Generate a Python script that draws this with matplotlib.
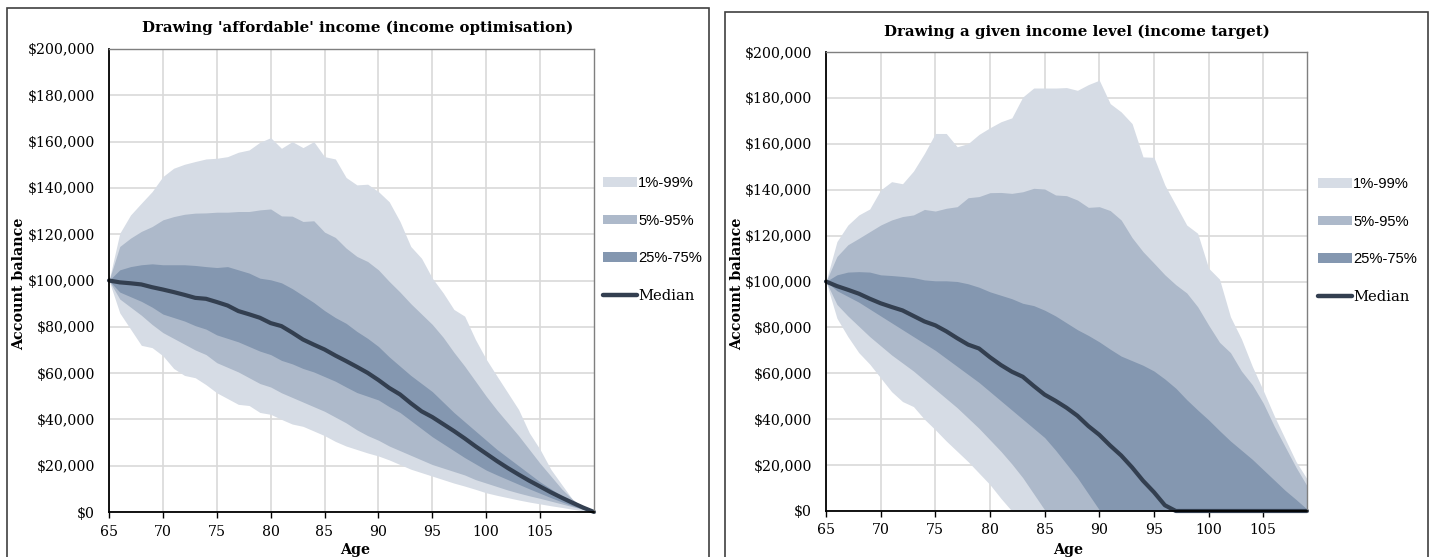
# Retirement account balance fan charts (two panels)

import matplotlib.pyplot as plt
import matplotlib.ticker as mticker
from matplotlib.patches import Rectangle, Patch
from matplotlib.lines import Line2D

# ages on the category axis
ages_left = list(range(65, 111))
ages_right = list(range(65, 110))

# left panel, income optimisation ($ thousands)
left_p01 = [100, 86, 79, 72, 71, 67.5, 62, 59, 58, 55, 51.5, 49, 46.5, 46, 43, 42.2, 40, 38, 37, 35,
            33, 30.5, 28.5, 27, 25.5, 24.2, 22.5, 20.5, 18.5, 17, 15.5, 14, 12.5, 11.2, 9.8, 8.3, 7.2,
            6.2, 5.2, 4.3, 3.5, 2.7, 2, 1.2, 0.5, 0]
left_p05 = [100, 92, 88.5, 85, 81, 77.5, 75, 72.5, 70, 68, 64.5, 62.5, 60.5, 58, 55.5, 54, 51.5, 49.5,
            47.5, 45.5, 43.5, 41, 38.5, 35.5, 33, 31, 28.5, 26.5, 24.5, 22.5, 20.5, 19, 17.5, 16, 14,
            12.5, 11, 9.5, 8.2, 7, 5.9, 4.7, 3.5, 2.3, 1.1, 0]
left_p25 = [100, 95, 93, 91, 88.5, 85.5, 84, 82.5, 80.5, 79, 76.5, 75, 73.5, 71.5, 69.5, 68, 65.5, 64,
            62, 60.5, 58.5, 56.5, 54, 51.6, 50, 48.4, 45.5, 43, 39.5, 36, 32.5, 29.5, 26.5, 23.5, 20.8,
            18.1, 16, 14, 12, 10, 8.1, 6.2, 4.4, 2.7, 1.2, 0]
left_med = [100, 99.2, 98.8, 98.3, 97.1, 96.1, 95, 93.8, 92.5, 92.1, 90.7, 89.2, 86.8, 85.4, 83.9, 81.6,
            80.3, 77.5, 74.5, 72.3, 70.2, 67.6, 65.2, 62.7, 60.1, 57, 53.6, 50.8, 47, 43.5, 41, 38, 35,
            31.8, 28.4, 25.2, 22, 19, 16.2, 13.5, 11, 8.5, 6.2, 4, 1.9, 0]
left_p75 = [100, 104.6, 106, 106.8, 107.2, 106.8, 106.8, 106.8, 106.5, 106, 105.6, 106, 104.6, 103.2,
            101, 100.3, 99, 96.5, 93.5, 90.5, 87, 84, 81.5, 78, 75, 71.5, 67, 63, 59, 55.5, 52, 47.5,
            43, 39, 35, 31, 27, 23.5, 20, 16.5, 13, 10, 7, 4, 1.7, 0]
left_p95 = [100, 114.7, 118.3, 121.2, 123.3, 126.2, 127.6, 128.6, 129.1, 129.2, 129.5, 129.5, 129.8,
            129.8, 130.5, 130.9, 127.9, 127.8, 125.5, 125.8, 120.9, 118.6, 114, 110.4, 108.2, 104.6,
            99.6, 95, 90, 85.5, 81, 75.5, 69, 63, 56.5, 50, 44, 38.5, 33, 27, 21, 15.5, 10, 5.5, 2, 0]
left_p99 = [100, 120.4, 128.3, 133.4, 138.4, 144.9, 148.5, 150.2, 151.4, 152.5, 152.8, 153.5, 155.4,
            156.4, 159.7, 161.7, 157.1, 160, 157.4, 160, 153.5, 152.5, 144.5, 141.3, 141.6, 138.4, 134,
            125.5, 114.7, 109.6, 101, 94.7, 87.5, 84.6, 74.5, 66, 58.7, 51.5, 44.3, 34.2, 27, 18.4,
            11.9, 5.5, 1.9, 0]

# right panel, income target ($ thousands)
right_p01 = [100, 84, 76, 69, 64, 58, 52, 47.7, 45.5, 40, 35.4, 30.5, 26, 21.5, 16.5, 11.5, 5.5,
             0, 0, 0, 0, 0, 0, 0, 0, 0, 0, 0, 0, 0, 0, 0, 0, 0, 0, 0, 0, 0, 0, 0, 0, 0, 0, 0, 0]
right_p05 = [100, 90, 85, 80.5, 76, 72, 68, 64.5, 61, 57, 53, 49, 45, 40.5, 36, 31, 26, 20.5, 14.5,
             7.5, 0.5, 0, 0, 0, 0, 0, 0, 0, 0, 0, 0, 0, 0, 0, 0, 0, 0, 0, 0, 0, 0, 0, 0, 0, 0]
right_p25 = [100, 96, 93.5, 91, 88, 85, 82, 79, 76, 73, 70, 66.5, 63, 59.5, 56, 52, 48, 44, 40, 36,
             32, 26.5, 20.5, 14.5, 7.5, 0.5, 0, 0, 0, 0, 0, 0, 0, 0, 0, 0, 0, 0, 0, 0, 0, 0, 0, 0, 0]
right_med = [100, 98, 96.4, 94.7, 92.5, 90.5, 88.9, 87.4, 85, 82.6, 80.9, 78.3, 75.3, 72.5, 70.8, 67,
             63.6, 60.7, 58.5, 54.5, 50.7, 48, 45, 41.5, 37, 33.2, 28.5, 24.2, 19, 13.2, 8.2, 2.5,
             0, 0, 0, 0, 0, 0, 0, 0, 0, 0, 0, 0, 0]
right_p75 = [100, 102.9, 104.1, 104.3, 104.1, 102.9, 102.6, 102.2, 101.7, 100.7, 100.3, 100.3, 100, 99,
             97.5, 95.5, 94, 92.5, 90.5, 89.5, 87.5, 85, 82, 79, 76.5, 73.7, 70.5, 67.5, 65.5, 63.5,
             61, 57.5, 53.5, 48.5, 44, 39.7, 35, 30.5, 26.5, 22.5, 18, 13.5, 9, 5, 0.8]
right_p95 = [100, 110.9, 116, 118.8, 121.7, 124.6, 126.8, 128.3, 129, 131.4, 130.7, 131.9, 132.6, 136.5,
             137, 138.7, 138.8, 138.4, 139.1, 140.6, 140.3, 137.7, 137.4, 135.5, 132.3, 132.6, 130.9,
             126.8, 119.1, 113, 108, 102.9, 98.6, 95, 89, 81, 73.5, 69, 61, 55, 47, 37, 28, 19, 11]
right_p99 = [100, 117.4, 124.6, 129, 131.6, 139.9, 143.5, 142.6, 148.1, 155.8, 164.5, 164.5, 158.7,
             160.1, 164.1, 167, 169.6, 171.3, 180.4, 184.3, 184.3, 184.3, 184.5, 183.3, 185.8, 187.7,
             177.5, 173.9, 168.8, 154.3, 154.1, 142, 133.3, 124.6, 121, 105.8, 101, 84.6, 75, 63,
             52.5, 41.5, 31.5, 21.5, 14]

band_labels = ['1%-99%', '5%-95%', '25%-75%', 'Median']
light, mid, dark, med_col = '#D6DCE5', '#ADB9CA', '#8497B0', '#333F50'

SERIF = 'DejaVu Serif'
W, H = 1432, 557
fig = plt.figure(figsize=(W / 100, H / 100), dpi=100)


def px(x0, y0, x1, y1):
    # pixel box (top-left origin) -> figure fraction [l, b, w, h]
    return [x0 / W, (H - y1) / H, (x1 - x0) / W, (y1 - y0) / H]


def panel(box, axbox, ages, p01, p05, p25, med, p75, p95, p99, title, title_y, leg_xy, xmax,
          ylab_x, age_x):
    # chart area border
    fig.add_artist(Rectangle((box[0] / W, -0.05), (box[1] - box[0]) / W, (H - box[2]) / H + 0.05,
                             transform=fig.transFigure, fill=False, edgecolor='#404040', lw=1.2))
    ax = fig.add_axes(px(*axbox))
    ax.fill_between(ages, p01, p99, color=light, lw=0, zorder=2)
    ax.fill_between(ages, p05, p95, color=mid, lw=0, zorder=3)
    ax.fill_between(ages, p25, p75, color=dark, lw=0, zorder=4)
    ax.plot(ages, med, color=med_col, lw=3.0, solid_capstyle='round', zorder=5, clip_on=False)

    ax.set_xlim(65, xmax)
    ax.set_ylim(0, 200)
    ax.set_xticks(range(65, 110, 5))
    ax.set_yticks(range(0, 201, 20))
    ax.yaxis.set_major_formatter(mticker.FuncFormatter(lambda v, p: '${:,.0f}'.format(v * 1000)))
    ax.grid(True, color='#D9D9D9', lw=1.2, zorder=0)
    ax.set_axisbelow(True)
    ax.tick_params(axis='y', length=0, pad=10, labelsize=10.2)
    ax.tick_params(axis='x', length=4, width=1, pad=5, labelsize=10.2, direction='out')
    for lab in ax.get_xticklabels() + ax.get_yticklabels():
        lab.set_fontfamily(SERIF)
    for s in ['top', 'right']:
        ax.spines[s].set_color('#7F7F7F')
        ax.spines[s].set_linewidth(1)
    for s in ['left', 'bottom']:
        ax.spines[s].set_color('black')
        ax.spines[s].set_linewidth(1.3)
    for s in ax.spines.values():
        s.set_zorder(6)

    cx = (box[0] + box[1]) / 2
    fig.text(cx / W, 1 - title_y / H, title, ha='center', va='center', family=SERIF,
             weight='bold', fontsize=10.8)
    fig.text(ylab_x / W, 1 - 284 / H, 'Account balance', rotation=90, ha='center', va='center',
             family=SERIF, weight='bold', fontsize=10.3)
    fig.text(age_x / W, 1 - 550 / H, 'Age', ha='center', va='center', family=SERIF,
             weight='bold', fontsize=10.3)

    handles = [Patch(facecolor=light, edgecolor='none'), Patch(facecolor=mid, edgecolor='none'),
               Patch(facecolor=dark, edgecolor='none'),
               Line2D([], [], color=med_col, lw=3.2, solid_capstyle='round')]
    leg = ax.legend(handles, band_labels, loc='upper left', frameon=False,
                    bbox_to_anchor=(leg_xy[0] / W, 1 - leg_xy[1] / H), bbox_transform=fig.transFigure,
                    handlelength=2.3, handleheight=0.62, handletextpad=0.1, labelspacing=1.6,
                    borderpad=0, borderaxespad=0, fontsize=10.6)
    for t in leg.get_texts()[:3]:
        t.set_fontfamily('Liberation Sans')
    leg.get_texts()[3].set_fontfamily(SERIF)
    return ax


panel((7, 709, 8), (109, 49, 594, 512), ages_left, left_p01, left_p05, left_p25, left_med,
      left_p75, left_p95, left_p99, "Drawing 'affordable' income (income optimisation)", 28,
      (603, 176), 110, 19, 355)
panel((725, 1428, 12), (826, 52, 1307, 511), ages_right, right_p01, right_p05, right_p25, right_med,
      right_p75, right_p95, right_p99, "Drawing a given income level (income target)", 32,
      (1318, 177), 109, 737, 1068)

fig.savefig('out.png', dpi=100)
